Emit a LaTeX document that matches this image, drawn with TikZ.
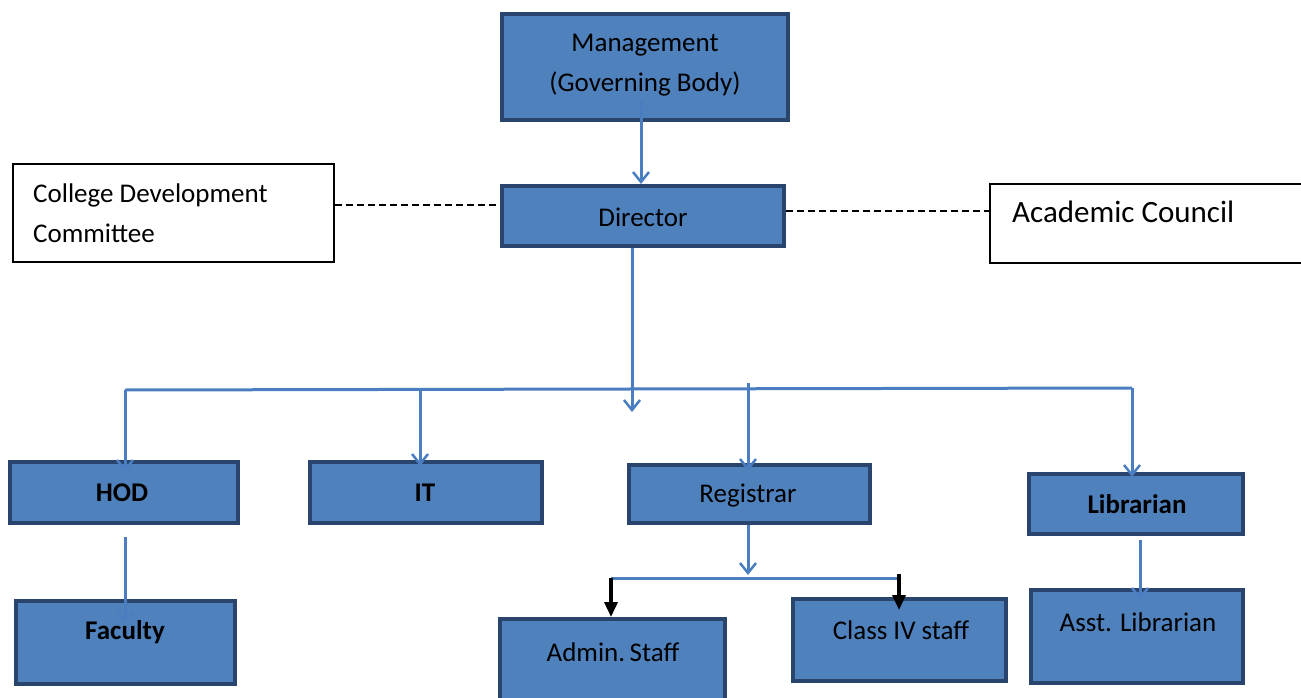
\documentclass[tikz,border=0pt]{standalone}
\usepackage{fontspec}
\setmainfont{Carlito}
\usetikzlibrary{arrows.meta}
\definecolor{boxfill}{RGB}{79,129,189}
\definecolor{boxline}{RGB}{41,68,109}
\definecolor{conn}{RGB}{74,126,193}
\begin{document}
\begin{tikzpicture}[x=1pt,y=-1pt,
  bluebox/.style={draw=boxline, fill=boxfill, line width=4pt, inner sep=0pt},
  whitebox/.style={draw=black, fill=white, line width=2.5pt, inner sep=0pt},
  txt/.style={font=\fontsize{27}{40}\selectfont, inner sep=0pt, align=center, text=black},
  btxt/.style={txt, font=\fontsize{27}{40}\selectfont\bfseries},
  bigtxt/.style={font=\fontsize{31}{40}\selectfont, inner sep=0pt, text=black},
  conline/.style={draw=conn, line width=3pt},
  barrow/.style={conline, -{Straight Barb[length=10pt,width=16pt,line width=2.5pt]}},
  karrow/.style={draw=black, line width=3.5pt, -{Triangle[length=15pt,width=13pt]}},
  dashline/.style={draw=black, line width=2pt, dash pattern=on 7pt off 4pt}
]
\useasboundingbox (0,0) rectangle (1301,698);
\fill[white] (0,0) rectangle (1301,698);

% boxes
\node[bluebox, minimum width=286pt, minimum height=106pt] (mgmt) at (645,67) {};
\node[txt] (mgmttxt) at (645,65) {Management\\(Governing Body)};
\node[bluebox, minimum width=282pt, minimum height=60pt] (dir) at (643,216) {};
\node[txt] (dirtxt) at (643,217) {Director};
\node[whitebox, minimum width=321pt, minimum height=98pt] (cdc) at (173.5,213) {};
\node[txt, anchor=west, align=left] (cdctxt) at (33,213) {College Development\\Committee};
\node[whitebox, minimum width=320pt, minimum height=79pt] (ac) at (1150,223.5) {};
\node[bigtxt, anchor=west] (actxt) at (1012,212) {Academic Council};

\node[bluebox, minimum width=228pt, minimum height=61pt] (hod) at (124,492.5) {};
\node[btxt] (hodtxt) at (122,493) {HOD};
\node[bluebox, minimum width=232pt, minimum height=61pt] (it) at (426,492.5) {};
\node[btxt] (ittxt) at (425,493) {IT};
\node[bluebox, minimum width=241pt, minimum height=58pt] (reg) at (749.5,494) {};
\node[txt] (regtxt) at (748,496) {Registrar};
\node[bluebox, minimum width=214pt, minimum height=60pt] (lib) at (1136,504) {};
\node[btxt] (libtxt) at (1137,504) {Librarian};

\node[bluebox, minimum width=219pt, minimum height=83pt] (fac) at (125.5,642.5) {};
\node[btxt] (factxt) at (125,632) {Faculty};
\node[bluebox, minimum width=225pt, minimum height=82pt] (adm) at (612.5,660) {};
\node[txt] (admtxt) at (613,652) {Admin.\,Staff};
\node[bluebox, minimum width=213pt, minimum height=82pt] (cls) at (899.5,640) {};
\node[txt] (clstxt) at (901,630) {Class IV staff};
\node[bluebox, minimum width=212pt, minimum height=93pt] (asst) at (1137,636.5) {};
\node[txt] (assttxt) at (1138,622) {Asst. Librarian};

% junction coordinates
\coordinate (mgTop) at (641,100);
\coordinate (trunk) at (632,412);
\coordinate (busL) at (125,390);
\coordinate (busR) at (1132,388);
\coordinate (itTop) at (420,390);
\coordinate (regTop) at (748,383);
\coordinate (subJ) at (748,575);
\coordinate (subL) at (611,578);
\coordinate (subR) at (899,578);
\coordinate (asTop) at (1140,540);

% dashed links
\draw[dashline] (cdc.east |- 0,205) -- (dir.west |- 0,205);
\draw[dashline] (dir.east |- 0,211) -- (ac.west |- 0,211);

% connectors
\draw[barrow] (mgTop) -- (dir.north -| mgTop);
\draw[barrow] (dir.south -| trunk) -- (trunk);
\draw[conline] (busL) -- (busR);
\draw[barrow, shorten >=-12pt] (busL) -- (hod.north -| busL);
\draw[barrow, shorten >=-6pt] (itTop) -- (it.north -| itTop);
\draw[barrow, shorten >=-8pt] (regTop) -- (reg.north -| regTop);
\draw[barrow, shorten >=-5pt] (busR) -- (lib.north -| busR);
\draw[barrow, shorten <=12pt, shorten >=-24pt] (hod.south -| busL) -- (fac.north -| busL);
\draw[barrow] (reg.south -| regTop) -- (subJ);
\draw[conline] (subL) -- (subR);
\draw[karrow] (subL) -- (adm.north -| subL);
\draw[karrow, shorten >=-13pt] ([yshift=4pt]subR) -- (cls.north -| subR);
\draw[barrow, shorten >=-12pt] (asTop) -- (asst.north -| asTop);
\end{tikzpicture}
\end{document}
